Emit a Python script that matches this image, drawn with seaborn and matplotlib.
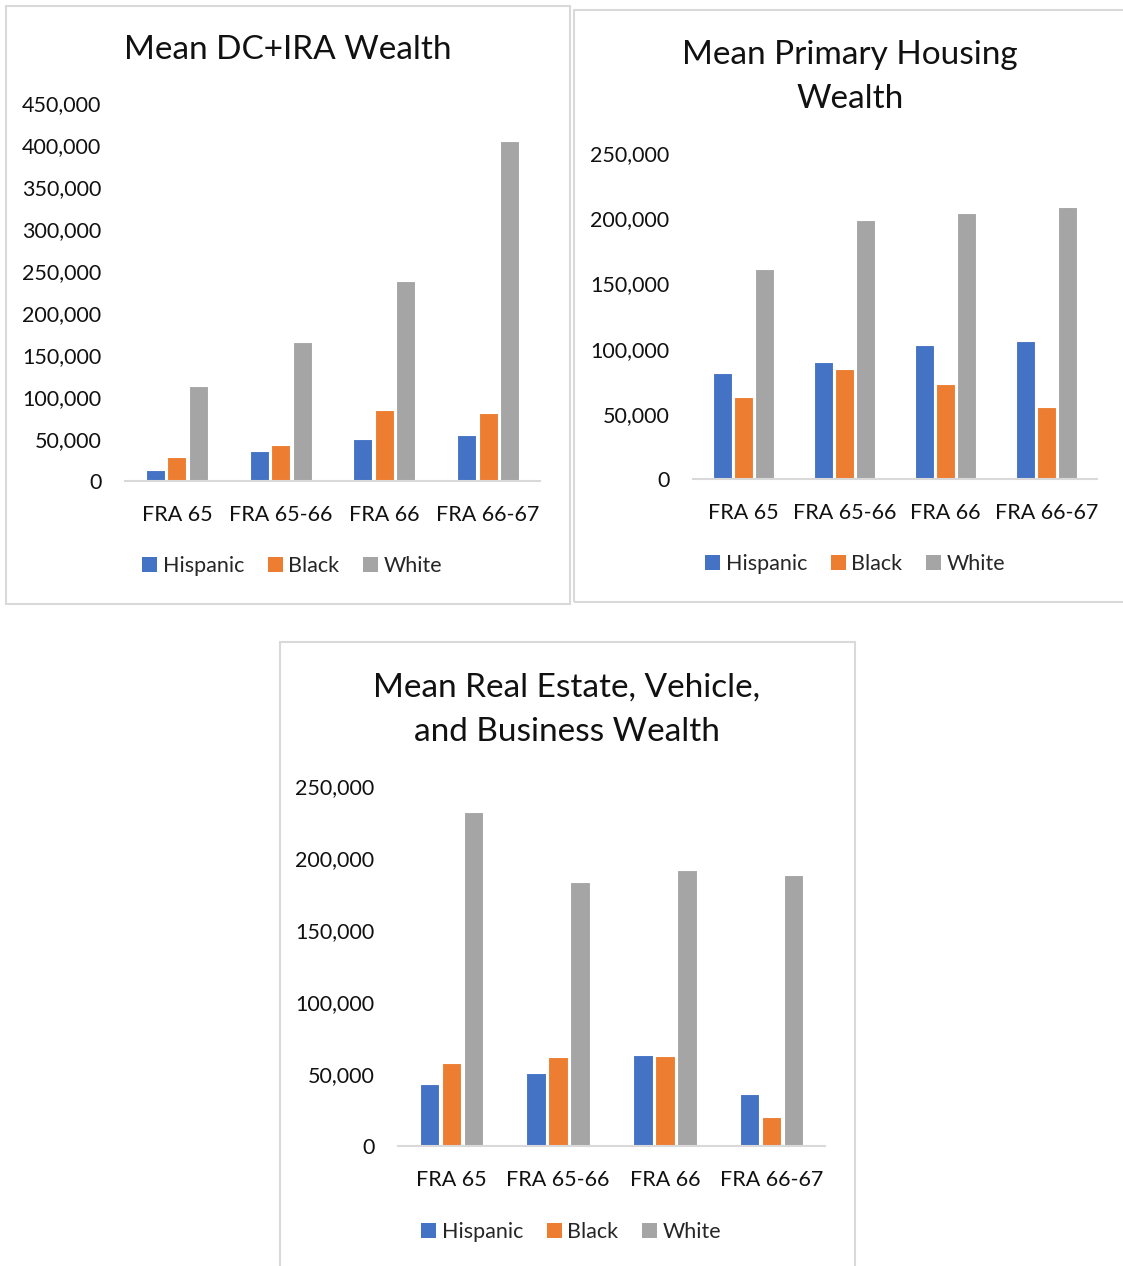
import matplotlib
matplotlib.use("Agg")
import matplotlib.pyplot as plt
from matplotlib.patches import Rectangle, Patch
import seaborn as sns
import pandas as pd

sns.set_style("white")
plt.rcParams["font.family"] = ["Lato", "DejaVu Sans"]

categories = ["FRA 65", "FRA 65-66", "FRA 66", "FRA 66-67"]
groups = ["Hispanic", "Black", "White"]
colors = ["#4472C4", "#ED7D31", "#A5A5A5"]

# Mean DC+IRA wealth
dc_hispanic = [13000, 36000, 50000, 55000]
dc_black = [28000, 43000, 84000, 81000]
dc_white = [113000, 166000, 238000, 405000]

# Mean primary housing wealth
house_hispanic = [81500, 90000, 102500, 106000]
house_black = [63000, 84500, 72500, 55000]
house_white = [161000, 198500, 204000, 208500]

# Mean real estate, vehicle and business wealth
re_hispanic = [43300, 50500, 63500, 36000]
re_black = [57700, 62100, 62300, 20400]
re_white = [232000, 183000, 191700, 188000]

W, H = 1123, 1266
fig = plt.figure(figsize=(W / 100, H / 100), dpi=100)


def px_rect(left, top, right, bottom):
    return [left / W, 1 - bottom / H, (right - left) / W, (bottom - top) / H]


def frame(left, top, right, bottom):
    fig.patches.append(Rectangle((left / W, 1 - bottom / H), (right - left) / W,
                                 (bottom - top) / H, transform=fig.transFigure,
                                 fill=False, edgecolor="#D9D9D9", linewidth=1.5))


def panel(rect, hisp, black, white, ymax, step, title, title_xy, legend_xy):
    df = pd.DataFrame({
        "category": categories * 3,
        "group": [g for g in groups for _ in categories],
        "value": hisp + black + white,
    })
    ax = fig.add_axes(px_rect(*rect))
    sns.barplot(data=df, x="category", y="value", hue="group", order=categories,
                hue_order=groups, palette=colors, saturation=1, width=0.62, gap=0.12,
                edgecolor="white", linewidth=0.8, legend=False, ax=ax)
    ax.set_ylim(0, ymax)
    ax.set_xlim(-0.5, len(categories) - 0.5)
    ticks = list(range(0, ymax + 1, step))
    ax.set_yticks(ticks)
    ax.set_yticklabels([f"{t:,}" for t in ticks])
    ax.set_xlabel("")
    ax.set_ylabel("")
    for s in ["top", "right", "left"]:
        ax.spines[s].set_visible(False)
    ax.spines["bottom"].set_color("#D9D9D9")
    ax.spines["bottom"].set_linewidth(1.5)
    ax.tick_params(axis="y", length=0, pad=17, labelsize=15.5, labelcolor="#111111")
    ax.tick_params(axis="x", length=0, pad=17, labelsize=15.5, labelcolor="#111111")
    ax.patch.set_alpha(0)
    fig.text(title_xy[0] / W, 1 - title_xy[1] / H, title, ha="center", va="center",
             fontsize=24, color="#111111", linespacing=1.6)
    handles = [Patch(facecolor=c, edgecolor="none") for c in colors]
    fig.legend(handles, groups, loc="center",
               bbox_to_anchor=(legend_xy[0] / W, 1 - legend_xy[1] / H),
               ncol=3, frameon=False, fontsize=15.5, handlelength=0.7,
               handleheight=0.7, handletextpad=0.25, columnspacing=1.1)
    return ax


frame(6, 6, 570, 604)
frame(574, 10, 1135, 602)
frame(280, 642, 855, 1280)

panel((125, 103, 540, 481), dc_hispanic, dc_black, dc_white, 450000, 50000,
      "Mean DC+IRA Wealth", (288, 50), (292, 566))
panel((693, 153, 1097, 479), house_hispanic, house_black, house_white, 250000, 50000,
      "Mean Primary Housing\nWealth", (850, 77), (855, 564))
panel((398, 786, 825, 1146), re_hispanic, re_black, re_white, 250000, 50000,
      "Mean Real Estate, Vehicle,\nand Business Wealth", (567, 710), (571, 1232))

fig.savefig("out.png", dpi=100, facecolor="white")
